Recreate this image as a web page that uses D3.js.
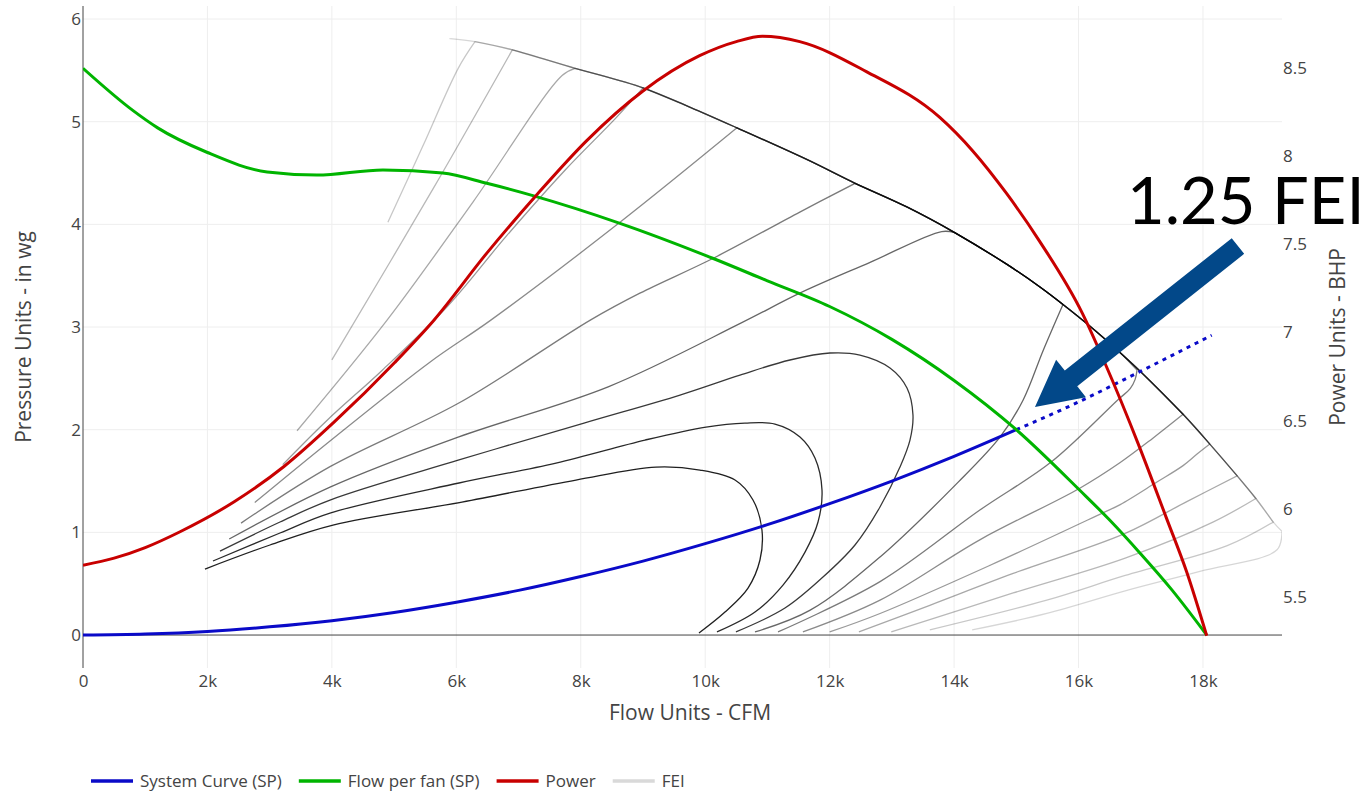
<!DOCTYPE html>
<html>
<head>
<meta charset="utf-8">
<script src="https://cdn.jsdelivr.net/npm/d3@7"></script>
<style>
  body { margin: 0; background: #fff; }
  text { font-family: "Open Sans", sans-serif; fill: #444; }
  .tick text { font-size: 17px; }
</style>
</head>
<body>
<script>
  // flow in CFM, pressure in in wg, power in BHP
  const xTicks = [0, 2000, 4000, 6000, 8000, 10000, 12000, 14000, 16000, 18000];
  const yTicks = [0, 1, 2, 3, 4, 5, 6];
  const y2Ticks = [5.5, 6, 6.5, 7, 7.5, 8, 8.5];

  const systemCurve = [[0,0],[1000,0.01],[2000,0.035],[3000,0.08],[4000,0.14],[5000,0.22],[6000,0.32],
    [7000,0.435],[8000,0.57],[9000,0.72],[10000,0.89],[11000,1.075],[12000,1.28],[13000,1.5],[14000,1.74],[15000,2.0]];
  const systemCurveExt = [[15000,2.0],[16000,2.27],[17000,2.57],[18140,2.92]];

  const flowPerFan = [[0,5.52],[800,5.11],[1200,4.94],[2000,4.70],[2960,4.51],[3760,4.48],[4820,4.53],[5780,4.50],
    [6490,4.40],[7230,4.28],[8630,4.01],[10120,3.67],[11000,3.45],[12000,3.20],[13000,2.88],[14000,2.48],
    [15000,2.0],[16020,1.41],[16500,1.12],[17000,0.79],[17500,0.44],[18060,0]];

  const power = [[0,5.68],[500,5.72],[1000,5.78],[1560,5.87],[2430,6.04],[3230,6.24],[4030,6.49],[5010,6.83],
    [5640,7.07],[6490,7.45],[7290,7.78],[8100,8.09],[9000,8.37],[9910,8.57],[10500,8.65],[10920,8.68],
    [11520,8.65],[12590,8.48],[13770,8.22],[14300,8.03],[14840,7.79],[15370,7.52],[16060,7.11],[16420,6.83],
    [16980,6.35],[17410,5.95],[17740,5.64],[18060,5.28]];

  // FEI map: outer boundary, closed loops, and open contour legs
  const feiEnvelope = [[5900,5.81],[6300,5.78],[6900,5.70],[7910,5.52],[9000,5.33],[9760,5.14],[10510,4.94],
    [11640,4.63],[12410,4.40],[13240,4.17],[14010,3.92],[14850,3.61],[15380,3.39],[15750,3.22],[16180,3.01],
    [16670,2.75],[16990,2.57],[17680,2.15],[18110,1.86],[18550,1.55],[18850,1.33],[19130,1.10],[19270,1.01]];

  const feiLoop1 = [[1960,0.643],[3005,0.877],[4018,1.071],[6091,1.295],[7923,1.51],[9209,1.636],[9916,1.607],
    [10479,1.51],[10768,1.315],[10912,1.023],[10880,0.731],[10688,0.458],[10318,0.224],[9900,0.02]];
  const feiLoop2 = [[2089,0.721],[3166,0.994],[3970,1.188],[6043,1.481],[7602,1.675],[9032,1.899],[10013,2.026],
    [10639,2.065],[11121,2.055],[11523,1.929],[11764,1.724],[11877,1.412],[11813,1.101],[11604,0.808],
    [11250,0.487],[10800,0.224],[10189,0.03]];
  const feiLoop3 = [[2202,0.818],[3166,1.101],[3970,1.315],[6043,1.705],[8052,2.065],[9595,2.338],[10559,2.532],
    [11362,2.679],[12005,2.747],[12487,2.727],[12970,2.601],[13243,2.406],[13339,2.143],[13291,1.899],
    [13130,1.636],[12809,1.247],[12407,0.877],[11893,0.565],[11282,0.263],[10494,0.03]];

  const feiLeft4 = [[2350,0.935],[3970,1.44],[6040,1.93],[8450,2.42],[10580,3.04],[11520,3.33],[12650,3.63],[13800,3.93],[14010,3.92]];
  const feiLeft5 = [[2540,1.09],[3970,1.64],[6040,2.26],[8160,3.07],[8950,3.33],[10130,3.67],[11520,4.12],[12410,4.40]];
  const feiLeft6 = [[2760,1.29],[3970,1.89],[5580,2.66],[6560,3.07],[8630,4.02],[10510,4.94]];
  const feiLeft7 = [[3210,1.66],[3920,2.09],[4810,2.58],[5870,3.21],[6810,3.89],[7750,4.53],[8570,5.04],[9000,5.33]];
  const feiLeft8 = [[3440,1.99],[4890,3.07],[6270,4.22],[7700,5.45],[7910,5.52]];
  const feiLeft9 = [[4000,2.68],[5630,4.35],[6900,5.70]];
  const feiLeft10 = [[4900,4.02],[5460,4.76],[6030,5.52],[6300,5.78]];
  const feiLeft11 = [[5900,5.81]];

  const feiRight4 = [[10800,0.03],[11680,0.24],[12810,0.76],[14050,1.48],[14740,1.93],[15110,2.29],[15430,2.77],[15750,3.22]];
  const feiRight5 = [[11170,0.03],[12810,0.52],[14420,1.22],[15570,1.69],[16630,2.29],[16830,2.40],[16910,2.49],[16940,2.58]];
  const feiRight6 = [[11570,0.03],[12810,0.34],[14420,0.93],[16020,1.43],[16670,1.68],[17200,1.92],[17680,2.15]];
  const feiRight7 = [[12000,0.03],[12810,0.21],[14580,0.68],[16390,1.19],[16670,1.27],[17260,1.49],[17680,1.65],[17900,1.76],[18110,1.86]];
  const feiRight8 = [[12470,0.03],[13610,0.29],[14950,0.60],[16750,0.99],[17740,1.30],[18550,1.55]];
  const feiRight9 = [[12990,0.03],[14950,0.41],[16750,0.75],[18160,1.10],[18850,1.33]];
  const feiRight10 = [[13610,0.05],[15490,0.34],[16750,0.58],[18390,0.87],[19130,1.10]];
  const feiRight11 = [[14290,0.05],[15490,0.21],[16750,0.43],[17950,0.62],[19190,0.83],[19270,1.01]];

  const legendNames = ["System Curve (SP)", "Flow per fan (SP)", "Power", "FEI"];

  // annotation anchors in data units
  const arrowTail = [18562, 3.789];
  const arrowTip = [15300, 2.221];
  const labelAt = [16779, 4.003];
  const labelText = "1.25 FEI";

  // ---- styles ----
  const blue = "#0a0ac8", green = "#00b400", red = "#c80000";
  const loopOpacity = [0.88, 0.84, 0.78];
  const levelOpacity = [0.6, 0.52, 0.46, 0.4, 0.34, 0.28, 0.22, 0.16];

  const W = 1372, H = 795;
  const x = d3.scaleLinear().domain([0, 19270]).range([83, 1282]);
  const y = d3.scaleLinear().domain([-0.321, 6.127]).range([668, 6]);
  const y2 = d3.scaleLinear().domain([5.097, 8.852]).range([668, 6]);

  const svg = d3.select("body").append("svg").attr("width", W).attr("height", H);
  svg.append("defs").append("clipPath").attr("id", "plot").append("rect")
    .attr("x", 83).attr("y", 6).attr("width", 1199).attr("height", 662);

  // grid
  const grid = svg.append("g").attr("stroke", "#eee").attr("stroke-width", 1);
  grid.selectAll(".gx").data(xTicks.filter(d => d > 0)).join("line")
    .attr("x1", d => x(d)).attr("x2", d => x(d)).attr("y1", 6).attr("y2", 668);
  grid.selectAll(".gy").data(yTicks.filter(d => d > 0)).join("line")
    .attr("x1", 83).attr("x2", 1282).attr("y1", d => y(d)).attr("y2", d => y(d));

  // zero lines
  svg.append("line").attr("x1", 83).attr("x2", 1282).attr("y1", y(0)).attr("y2", y(0)).attr("stroke", "#444");
  svg.append("line").attr("x1", x(0)).attr("x2", x(0)).attr("y1", 6).attr("y2", 668).attr("stroke", "#444");

  // axes
  const fmtK = d => d === 0 ? "0" : d / 1000 + "k";
  svg.append("g").attr("transform", "translate(0,668)")
    .call(d3.axisBottom(x).tickValues(xTicks).tickFormat(fmtK).tickSize(0).tickPadding(7))
    .call(g => g.select(".domain").remove());
  svg.append("g").attr("transform", "translate(83,0)")
    .call(d3.axisLeft(y).tickValues(yTicks).tickFormat(d3.format("d")).tickSize(0).tickPadding(2))
    .call(g => g.select(".domain").remove());
  svg.append("g").attr("transform", "translate(1282,0)")
    .call(d3.axisRight(y2).tickValues(y2Ticks).tickFormat(d => String(d)).tickSize(0).tickPadding(1))
    .call(g => g.select(".domain").remove());

  svg.append("text").attr("x", 690).attr("y", 720).attr("text-anchor", "middle")
    .attr("font-size", 21).text("Flow Units - CFM");
  svg.append("text").attr("transform", "translate(31,337) rotate(-90)").attr("text-anchor", "middle")
    .attr("font-size", 21).text("Pressure Units - in wg");
  svg.append("text").attr("transform", "translate(1345,337) rotate(-90)").attr("text-anchor", "middle")
    .attr("font-size", 21).text("Power Units - BHP");

  const plot = svg.append("g").attr("clip-path", "url(#plot)");

  // FEI contours: each open level = left leg + stretch of boundary + right leg
  const lineC = d3.line().x(d => x(d[0])).y(d => y(d[1])).curve(d3.curveCatmullRom.alpha(0.5));
  const seg = pts => pts.length > 1 ? lineC(pts) : `M${x(pts[0][0])},${y(pts[0][1])}`;
  function openPath(left, right) {
    const a = left[left.length - 1], b = right[right.length - 1];
    const env = [a].concat(feiEnvelope.filter(d => d[0] > a[0] && d[0] < b[0]), [b]);
    return seg(left) + seg(env).replace(/^M/, "L") + seg(right.slice().reverse()).replace(/^M/, "L");
  }
  const lefts = [feiLeft4, feiLeft5, feiLeft6, feiLeft7, feiLeft8, feiLeft9, feiLeft10, feiLeft11];
  const rights = [feiRight4, feiRight5, feiRight6, feiRight7, feiRight8, feiRight9, feiRight10, feiRight11];

  const fei = plot.append("g").attr("fill", "none").attr("stroke", "#000").attr("stroke-width", 1.3);
  fei.selectAll(".open").data(lefts).join("path")
    .attr("d", (left, i) => openPath(left, rights[i]))
    .attr("stroke-opacity", (d, i) => levelOpacity[i]);
  fei.selectAll(".loop").data([feiLoop1, feiLoop2, feiLoop3]).join("path")
    .attr("d", lineC).attr("stroke-opacity", (d, i) => loopOpacity[i]);

  // main traces
  const lineP = d3.line().x(d => x(d[0])).y(d => y(d[1])).curve(d3.curveMonotoneX);
  const lineW = d3.line().x(d => x(d[0])).y(d => y2(d[1])).curve(d3.curveMonotoneX);
  plot.append("path").datum(systemCurve).attr("d", lineP)
    .attr("fill", "none").attr("stroke", blue).attr("stroke-width", 3);
  plot.append("path").datum(systemCurveExt).attr("d", lineP)
    .attr("fill", "none").attr("stroke", blue).attr("stroke-width", 3).attr("stroke-dasharray", "4,5");
  plot.append("path").datum(flowPerFan).attr("d", lineP)
    .attr("fill", "none").attr("stroke", green).attr("stroke-width", 3);
  plot.append("path").datum(power).attr("d", lineW)
    .attr("fill", "none").attr("stroke", red).attr("stroke-width", 3);

  // legend
  const legendColors = [blue, green, red, "#d9d9d9"];
  const legend = svg.append("g");
  let lx = 91;
  legendNames.forEach((name, i) => {
    legend.append("line").attr("x1", lx).attr("x2", lx + 42).attr("y1", 781).attr("y2", 781)
      .attr("stroke", legendColors[i]).attr("stroke-width", 3.5);
    const t = legend.append("text").attr("x", lx + 49).attr("y", 781).attr("dy", "0.35em")
      .attr("font-size", 17).text(name);
    lx += 49 + t.node().getComputedTextLength() + 17;
  });

  // annotation arrow + label
  const tail = [x(arrowTail[0]), y(arrowTail[1])];
  const tip = [x(arrowTip[0]), y(arrowTip[1])];
  const len = Math.hypot(tip[0] - tail[0], tip[1] - tail[1]);
  const u = [(tip[0] - tail[0]) / len, (tip[1] - tail[1]) / len];
  const n = [-u[1], u[0]];
  const base = [tip[0] - u[0] * 46, tip[1] - u[1] * 46];
  const off = (p, w) => [p[0] + n[0] * w, p[1] + n[1] * w];
  const arrowPts = [off(tail, 10), off(base, 10), off(base, 24), tip, off(base, -24), off(base, -10), off(tail, -10)];
  svg.append("polygon").attr("points", arrowPts.map(p => p.join(",")).join(" ")).attr("fill", "#024889");

  svg.append("text").attr("x", x(labelAt[0])).attr("y", y(labelAt[1]))
    .style("font-family", "Lato, sans-serif").style("fill", "#000").attr("font-size", 65).text(labelText);
</script>
</body>
</html>
